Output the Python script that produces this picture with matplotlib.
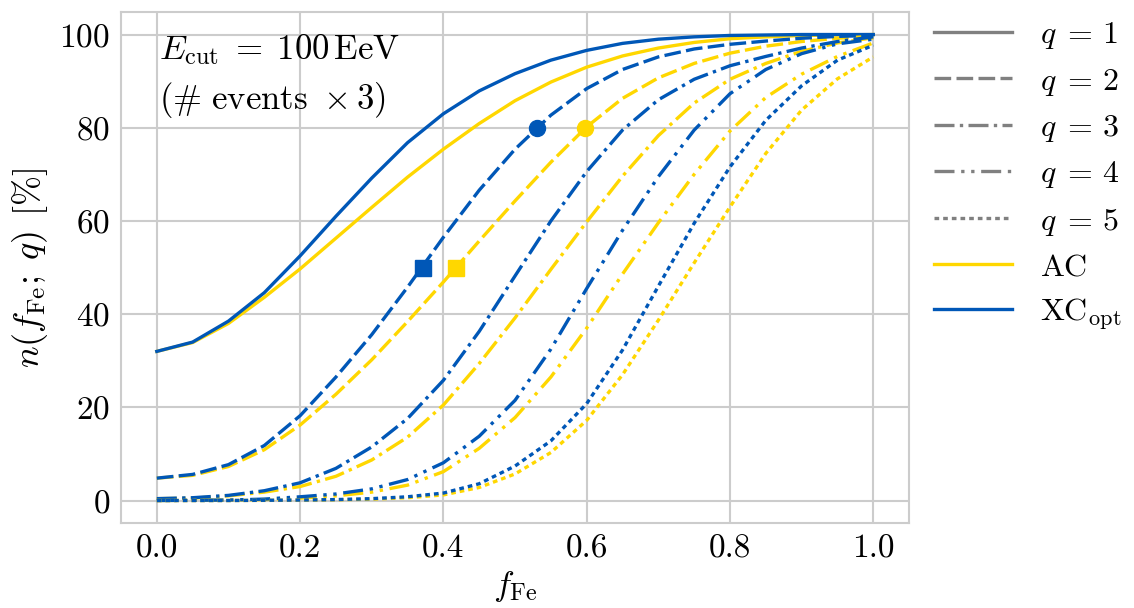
import matplotlib
matplotlib.use('Agg')
import matplotlib.pyplot as plt
import numpy as np
from matplotlib.lines import Line2D

plt.rcParams['font.family'] = 'serif'
plt.rcParams['font.serif'] = ['cmr10']
plt.rcParams['mathtext.fontset'] = 'cm'
plt.rcParams['axes.formatter.use_mathtext'] = True
plt.rcParams['font.size'] = 24

# fraction of iron, read at steps of 0.05
f_fe = [0.00, 0.05, 0.10, 0.15, 0.20, 0.25, 0.30, 0.35, 0.40, 0.45, 0.50,
        0.55, 0.60, 0.65, 0.70, 0.75, 0.80, 0.85, 0.90, 0.95, 1.00]

# n(f_Fe; q) in percent, XC_opt
xc_q1 = [32.0, 34.0, 38.5, 44.6, 52.5, 61.0, 69.2, 76.8, 83.0, 87.9, 91.6,
         94.5, 96.6, 98.1, 99.0, 99.5, 99.8, 99.9, 100, 100, 100]
xc_q2 = [4.8, 5.6, 7.7, 11.8, 18.2, 26.5, 35.6, 45.8, 56.5, 66.6, 75.4,
         82.7, 88.4, 92.5, 95.2, 96.9, 97.9, 98.6, 99.2, 99.6, 99.8]
xc_q3 = [0.4, 0.6, 1.1, 2.1, 3.8, 6.9, 11.5, 17.6, 25.8, 36.3, 48.2,
         60.0, 70.6, 79.5, 86.0, 90.4, 93.3, 95.3, 97.1, 98.5, 99.5]
xc_q4 = [0.0, 0.05, 0.1, 0.3, 0.8, 1.4, 2.5, 4.5, 8.1, 13.8, 21.5,
         32.5, 45.5, 58.0, 69.5, 79.5, 87.3, 92.5, 95.9, 98.0, 99.0]
xc_q5 = [0.0, 0.0, 0.0, 0.05, 0.1, 0.2, 0.4, 0.8, 1.6, 3.6, 7.4,
         12.8, 20.8, 32.3, 46.0, 59.5, 71.6, 81.6, 89.0, 94.5, 97.7]

# n(f_Fe; q) in percent, AC
ac_q1 = [32.0, 33.9, 38.0, 43.6, 49.7, 56.3, 62.9, 69.4, 75.4, 80.9, 85.8,
         89.8, 93.0, 95.4, 97.1, 98.3, 99.1, 99.5, 99.8, 99.9, 100]
ac_q2 = [4.8, 5.4, 7.3, 10.9, 16.2, 22.8, 30.2, 38.4, 46.9, 55.7, 64.3,
         72.6, 80.2, 86.3, 90.7, 93.8, 96.0, 97.5, 98.5, 99.2, 99.6]
ac_q3 = [0.4, 0.5, 1.0, 1.8, 3.0, 5.2, 8.7, 13.6, 20.5, 29.4, 39.2,
         49.6, 59.8, 69.6, 78.3, 85.3, 90.4, 93.8, 96.4, 98.2, 99.3]
ac_q4 = [0.0, 0.03, 0.08, 0.2, 0.5, 1.0, 1.8, 3.3, 6.2, 11.2, 17.8,
         26.5, 37.0, 48.6, 59.6, 70.0, 79.3, 86.5, 91.5, 95.3, 98.2]
ac_q5 = [0.0, 0.0, 0.0, 0.03, 0.07, 0.15, 0.3, 0.6, 1.2, 2.8, 5.7,
         10.3, 17.2, 27.0, 38.7, 51.0, 63.0, 74.5, 83.8, 90.5, 95.2]

# where q=2 reaches 50 % (squares) and 80 % (circles)
marker_levels = [50, 80]
xc_marker_f = [0.372, 0.530]
ac_marker_f = [0.418, 0.597]

q_values = [1, 2, 3, 4, 5]
xc_curves = [xc_q1, xc_q2, xc_q3, xc_q4, xc_q5]
ac_curves = [ac_q1, ac_q2, ac_q3, ac_q4, ac_q5]

yellow = '#FFD700'
blue = '#0057B7'
styles = ['-', (0, (5, 1.6)), (0, (6, 1.6, 1, 1.6)), (0, (6, 2, 1, 2, 1, 2)), (0, (1.4, 1.2))]
lw = 2.4

fig = plt.figure(figsize=(11.34, 6.08), dpi=100)
ax = fig.add_axes([0.1067, 0.140, 0.695, 0.840])

for q, ls, xc, ac in zip(q_values, styles, xc_curves, ac_curves):
    ax.plot(f_fe, ac, color=yellow, lw=lw, ls=ls)
    ax.plot(f_fe, xc, color=blue, lw=lw, ls=ls)

ax.plot(xc_marker_f[0], marker_levels[0], 's', color=blue, ms=11, zorder=5)
ax.plot(ac_marker_f[0], marker_levels[0], 's', color=yellow, ms=11, zorder=5)
ax.plot(xc_marker_f[1], marker_levels[1], 'o', color=blue, ms=11.5, zorder=5)
ax.plot(ac_marker_f[1], marker_levels[1], 'o', color=yellow, ms=11.5, zorder=5)

ax.set_xlim(-0.05, 1.05)
ax.set_ylim(-4.8, 104.8)
ax.set_xticks([0.0, 0.2, 0.4, 0.6, 0.8, 1.0])
ax.set_yticks([0, 20, 40, 60, 80, 100])
ax.set_xticklabels(['0.0', '0.2', '0.4', '0.6', '0.8', '1.0'])
ax.grid(True, color='#cccccc', lw=1.5)
ax.set_axisbelow(True)
for s in ax.spines.values():
    s.set_color('#cccccc')
    s.set_linewidth(1.5)
ax.tick_params(length=0, pad=8, labelsize=24)

ax.set_xlabel(r'$f_{\mathrm{Fe}}$', fontsize=25, labelpad=4)
ax.set_ylabel(r'$n(f_{\mathrm{Fe}};\;q)\;\,[\%]$', fontsize=26, labelpad=7)

ax.text(0.003, 100.5, r'$E_{\mathrm{cut}} \;=\; 100\,\mathrm{EeV}$' + '\n' +
        r'$(\#\ \mathrm{events}\ \times 3)$', fontsize=25, va='top', ha='left',
        linespacing=1.45)

handles = [Line2D([], [], color='#808080', lw=lw, ls=ls) for ls in styles]
handles += [Line2D([], [], color=yellow, lw=lw), Line2D([], [], color=blue, lw=lw)]
labels = [r'$q\;=\,%d$' % q for q in q_values] + [r'$\mathrm{AC}$', r'$\mathrm{XC}_{\mathrm{opt}}$']
ax.legend(handles, labels, loc='upper left', bbox_to_anchor=(1.0317, 0.984),
          borderaxespad=0, borderpad=0, frameon=False, fontsize=23,
          handlelength=2.44, handletextpad=0.88, labelspacing=0.48)

fig.savefig('out.png', dpi=100)
